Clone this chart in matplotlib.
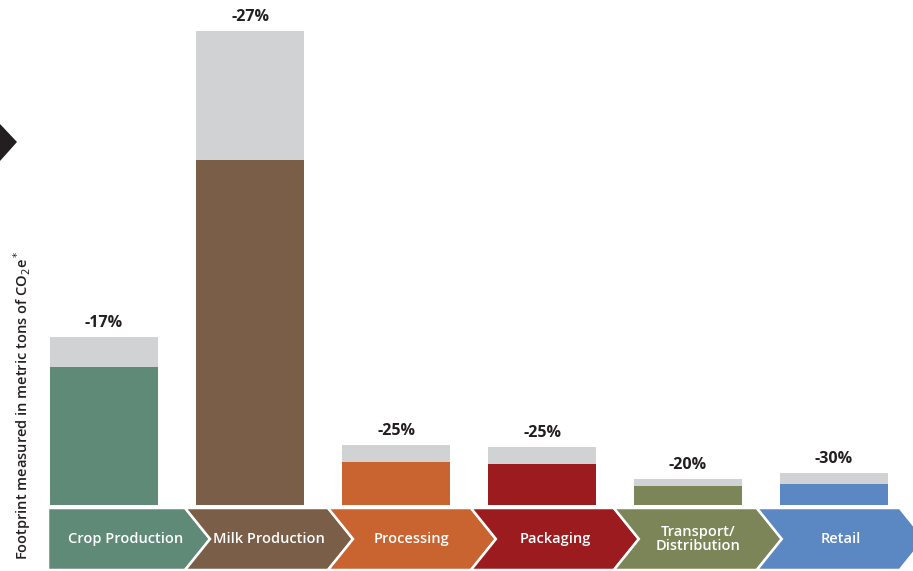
import matplotlib
matplotlib.use("Agg")
import matplotlib.pyplot as plt
from matplotlib.patches import Polygon

# stages along the value chain
stages = ["Crop Production", "Milk Production", "Processing", "Packaging",
          "Transport/\nDistribution", "Retail"]
# footprint before and after reduction (relative units)
total = [168, 474, 60, 58, 26, 32]
reduced = [138, 345, 43, 41, 19, 21]
cuts = ["-17%", "-27%", "-25%", "-25%", "-20%", "-30%"]

colors = ["#5f8a78", "#7a5e47", "#c96431", "#9b1b1f", "#7b8558", "#5b87c3"]
grey = "#d1d2d4"

plt.rcParams['font.family'] = ['Open Sans', 'DejaVu Sans']

fig = plt.figure(figsize=(9.13, 5.71), dpi=100)
ax = fig.add_axes([48 / 913, 0, 865 / 913, 1])
x = list(range(len(stages)))

ax.bar(x, reduced, width=0.74, color=colors, zorder=2)
ax.bar(x, [t - r for t, r in zip(total, reduced)], bottom=reduced,
       width=0.74, color=grey, zorder=2)

for i in x:
    ax.text(i, total[i] + 6, cuts[i], ha="center", va="bottom",
            fontsize=11.5, fontweight="bold", color="#231f20")

# chevron band under the bars
top, bot = -3, -65
mid = (top + bot) / 2
depth = 0.171
left_edge = -0.384
for i in x:
    corner = 0.555 + 0.979 * i
    if i == 0:
        pts = [(left_edge, top), (corner, top), (corner + depth, mid),
               (corner, bot), (left_edge, bot)]
        cx = (left_edge + corner) / 2 + 0.06
    else:
        prev = 0.555 + 0.979 * (i - 1)
        pts = [(prev, top), (corner, top), (corner + depth, mid),
               (corner, bot), (prev, bot), (prev + depth, mid)]
        cx = (prev + depth + corner) / 2
    ax.add_patch(Polygon(pts, closed=True, facecolor=colors[i],
                         edgecolor="white", linewidth=1.8, zorder=3))
    ax.text(cx, mid, stages[i], ha="center", va="center", color="white",
            fontsize=10.5, fontweight="semibold", linespacing=0.95, zorder=4)

ax.set_xlim(left_edge, (913 - 104) / 146)
ax.set_ylim(-66, 505)
ax.axis("off")

fig.text(22 / 913, 1 - 405 / 571,
         r"Footprint measured in metric tons of CO$_2$e$^*$",
         rotation=90, ha="center", va="center", fontsize=10.5,
         fontweight="semibold", color="#231f20")

# black arrow head at the left edge
fig.patches.append(Polygon([(0, 1 - 124 / 571), (17 / 913, 1 - 142 / 571),
                            (0, 1 - 161 / 571)], closed=True,
                           transform=fig.transFigure, facecolor="#231f20",
                           edgecolor="none"))

fig.savefig("out.png", dpi=100)
